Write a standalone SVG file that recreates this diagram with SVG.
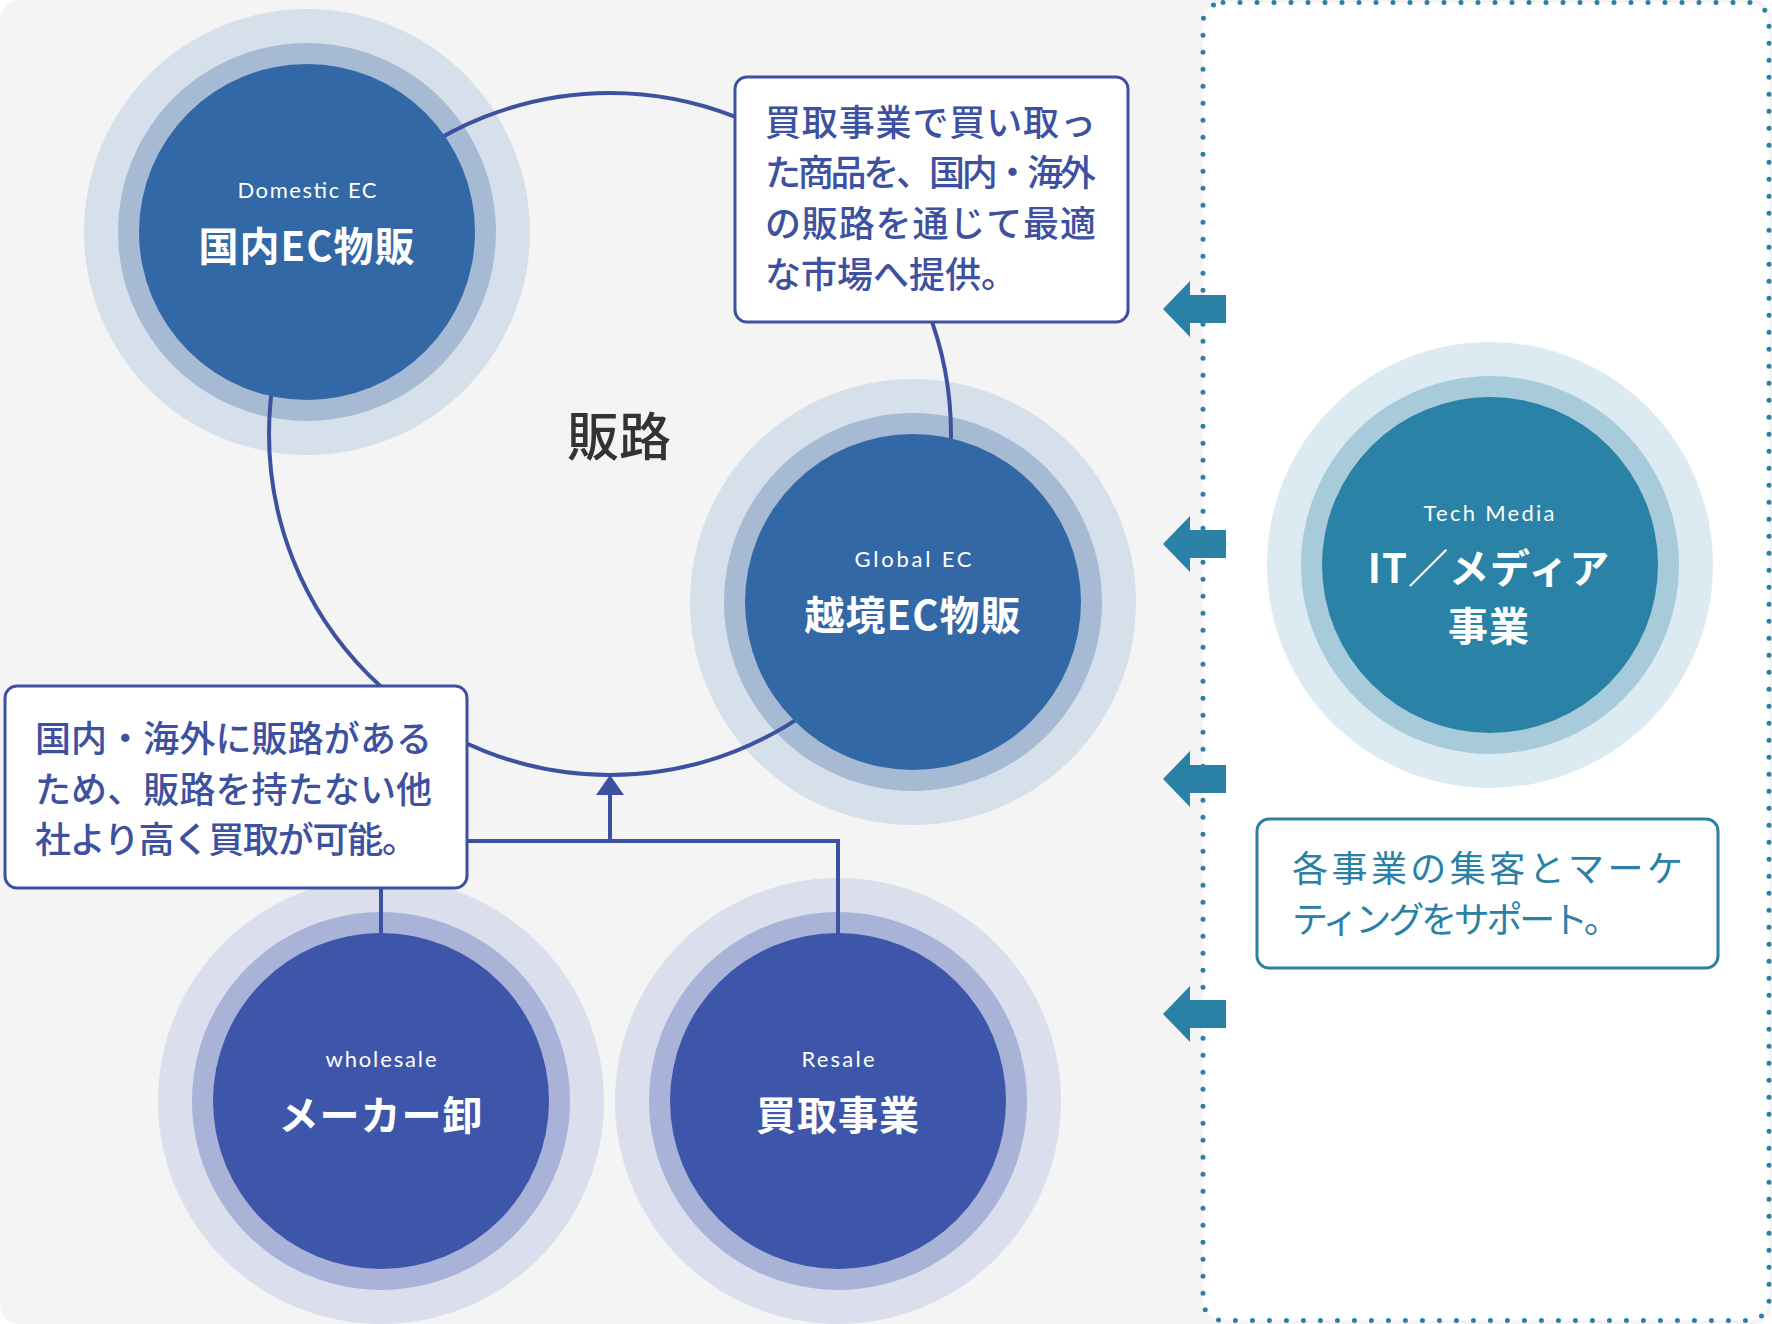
<svg xmlns="http://www.w3.org/2000/svg" width="1772" height="1324" viewBox="0 0 1772 1324">
  <style>
    .ring-b-out { fill: #d6e0ea; }
    .ring-b-mid { fill: #a6bad4; }
    .core-b { fill: #3368a6; }
    .ring-i-out { fill: #dbdeed; }
    .ring-i-mid { fill: #a9b3d7; }
    .core-i { fill: #3d56a9; }
    .ring-t-out { fill: #dcebf1; }
    .ring-t-mid { fill: #a7cbdb; }
    .core-t { fill: #2a83a6; }
    .conn { fill: none; stroke: #3d51a0; stroke-width: 4; }
    .box { fill: #ffffff; stroke: #3d51a0; stroke-width: 3; }
    .box-t { fill: #ffffff; stroke: #2a81a5; stroke-width: 3; }
    .en { font-family: Lato, "Noto Sans", sans-serif; font-size: 22px; fill: #ffffff; text-anchor: middle; }
    .jp-big { font-family: "Noto Sans CJK JP", "Noto Sans", sans-serif; font-size: 40px; font-weight: 700; fill: #ffffff; text-anchor: middle; letter-spacing: 1px; }
    .note { font-family: "Noto Sans CJK JP", "Noto Sans", sans-serif; font-size: 36px; font-weight: 500; fill: #3d51a0; }
    .note-t { font-family: "Noto Sans CJK JP", "Noto Sans", sans-serif; font-size: 36px; font-weight: 400; fill: #2a81a5; }
    .tarrow { fill: #2a81a5; }
  </style>
  <defs>
    <path id="left-arrow" d="M0,0 L27,-28 L27,-14 L63,-14 L63,14 L27,14 L27,28 Z"/>
  </defs>

  <!-- background -->
  <rect x="0" y="0" width="1772" height="1324" rx="20" fill="#f4f4f4"/>
  <rect id="support-panel" x="1203" y="2.5" width="566" height="1318" rx="20" fill="#ffffff" stroke="#2a81a5" stroke-width="5" stroke-dasharray="0 17" stroke-linecap="round"/>

  <!-- halos -->
  <g id="halos">
    <circle class="ring-b-out" cx="307" cy="232" r="223"/>
    <circle class="ring-b-mid" cx="307" cy="232" r="189"/>
    <circle class="ring-b-out" cx="913" cy="602" r="223"/>
    <circle class="ring-b-mid" cx="913" cy="602" r="189"/>
    <circle class="ring-t-out" cx="1490" cy="565" r="223"/>
    <circle class="ring-t-mid" cx="1490" cy="565" r="189"/>
    <circle class="ring-i-out" cx="381" cy="1101" r="223"/>
    <circle class="ring-i-mid" cx="381" cy="1101" r="189"/>
    <circle class="ring-i-out" cx="838" cy="1101" r="223"/>
    <circle class="ring-i-mid" cx="838" cy="1101" r="189"/>
  </g>

  <!-- connectors -->
  <g id="connectors">
    <circle class="conn" cx="610" cy="434" r="341"/>
    <polyline class="conn" points="455,841 838,841 838,945"/>
    <line class="conn" x1="381" y1="880" x2="381" y2="945"/>
    <line class="conn" x1="610" y1="841" x2="610" y2="790"/>
    <polygon points="610,775 596,795 624,795" fill="#3d51a0"/>
  </g>

  <!-- nodes -->
  <g id="node-domestic">
    <circle class="core-b" cx="307" cy="232" r="168"/>
    <text class="en" x="307" y="198" textLength="139" lengthAdjust="spacing">Domestic EC</text>
    <text class="jp-big" x="307" y="261">国内EC物販</text>
  </g>
  <g id="node-global">
    <circle class="core-b" cx="913" cy="602" r="168"/>
    <text class="en" x="913" y="567" textLength="117" lengthAdjust="spacing">Global EC</text>
    <text class="jp-big" x="913" y="630">越境EC物販</text>
  </g>
  <g id="node-tech">
    <circle class="core-t" cx="1490" cy="565" r="168"/>
    <text class="en" x="1489" y="521" textLength="131" lengthAdjust="spacing">Tech Media</text>
    <text class="jp-big"><tspan x="1489" y="583">IT／メディア</tspan><tspan x="1489" y="641">事業</tspan></text>
  </g>
  <g id="node-wholesale">
    <circle class="core-i" cx="381" cy="1101" r="168"/>
    <text class="en" x="381" y="1067" textLength="111" lengthAdjust="spacing">wholesale</text>
    <text class="jp-big" x="381" y="1130">メーカー卸</text>
  </g>
  <g id="node-resale">
    <circle class="core-i" cx="838" cy="1101" r="168"/>
    <text class="en" x="838" y="1067" textLength="73" lengthAdjust="spacing">Resale</text>
    <text class="jp-big" x="838" y="1130">買取事業</text>
  </g>

  <!-- notes -->
  <g id="note-channels">
    <rect class="box" x="735" y="77" width="393" height="245" rx="12"/>
    <text class="note" x="765" y="135.5" textLength="331" lengthAdjust="spacing">買取事業で買い取っ</text>
    <text class="note" x="765" y="186" textLength="331" lengthAdjust="spacing">た商品を、国内・海外</text>
    <text class="note" x="765" y="237" textLength="331" lengthAdjust="spacing">の販路を通じて最適</text>
    <text class="note" x="765" y="287.5">な市場へ提供。</text>
  </g>
  <g id="note-purchase">
    <rect class="box" x="5" y="686" width="462" height="202" rx="12"/>
    <text class="note" x="35" y="752" textLength="397" lengthAdjust="spacing">国内・海外に販路がある</text>
    <text class="note" x="35" y="803" textLength="397" lengthAdjust="spacing">ため、販路を持たない他</text>
    <text class="note" x="35" y="853" textLength="383" lengthAdjust="spacing">社より高く買取が可能。</text>
  </g>
  <g id="note-marketing">
    <rect class="box-t" x="1257" y="819" width="461" height="149" rx="12"/>
    <text class="note-t" x="1292" y="882" textLength="391" lengthAdjust="spacing">各事業の集客とマーケ</text>
    <text class="note-t" x="1292" y="933" textLength="328" lengthAdjust="spacing">ティングをサポート。</text>
  </g>

  <!-- support arrows -->
  <g id="support-arrows" class="tarrow">
    <use href="#left-arrow" x="1163" y="309"/>
    <use href="#left-arrow" x="1163" y="544"/>
    <use href="#left-arrow" x="1163" y="779"/>
    <use href="#left-arrow" x="1163" y="1014"/>
  </g>

  <!-- loop label -->
  <text id="label-channels" x="619" y="456" font-family="'Noto Sans CJK JP', sans-serif" font-size="52" font-weight="500" fill="#333333" text-anchor="middle">販路</text>
</svg>
